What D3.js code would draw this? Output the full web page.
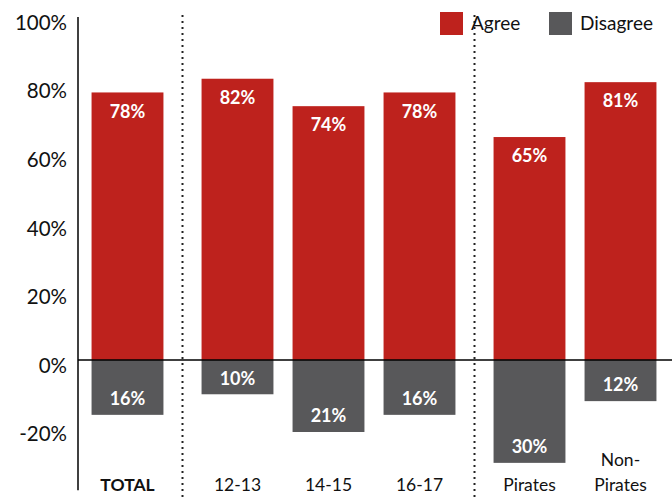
<!DOCTYPE html>
<html><head><meta charset="utf-8">
<script src="https://cdn.jsdelivr.net/npm/d3@7"></script>
<style>body{margin:0;background:#fff}</style>
</head><body>
<svg id="c" width="672" height="500"></svg>
<script>
const categories = ["TOTAL","12-13","14-15","16-17","Pirates","Non-Pirates"];
const groups = [0,1,1,1,2,2];
const agree = [78,82,74,78,65,81];
const disagree = [16,10,21,16,30,12];
const yTicks = [-20,0,20,40,60,80,100];
const series = ["Agree","Disagree"];
const colors = ["#BE221D","#58585A"];

const svg = d3.select("#c");
const font = "Lato, 'Open Sans', sans-serif";
const y = d3.scaleLinear().domain([-38,100]).range([490.3,17]);
const xb = d3.scaleBand().domain(categories).range([82,82+546]).paddingInner(0.21).paddingOuter(0.105);
const gap = 19;
const xPos = (c,i) => xb(c) + groups[i]*gap;

// axis
const yAxis = d3.axisLeft(y).tickValues(yTicks).tickSize(0).tickPadding(11).tickFormat(d=>d+"%");
const ag = svg.append("g").attr("transform","translate(78,0)").call(yAxis);
ag.select(".domain").remove();
ag.selectAll("text").attr("font-family",font).attr("font-size",20.5).attr("fill","#111").attr("dy","0.6em");
svg.append("line").attr("x1",78).attr("x2",78).attr("y1",y(100)).attr("y2",y(-38)).attr("stroke","#000").attr("stroke-width",1.5);

// bars
const bars = svg.append("g");
categories.forEach((c,i)=>{
  const x = xPos(c,i), w = xb.bandwidth();
  bars.append("rect").attr("x",x).attr("width",w).attr("y",y(agree[i])).attr("height",y(0)-y(agree[i])).attr("fill",colors[0]);
  bars.append("rect").attr("x",x).attr("width",w).attr("y",y(0)).attr("height",y(-disagree[i])-y(0)).attr("fill",colors[1]);
  bars.append("text").attr("x",x+w/2).attr("y",y(agree[i])+19).attr("dy","0.35em").attr("text-anchor","middle")
    .attr("font-family",font).attr("font-weight","bold").attr("font-size",18).attr("fill","#fff").text(agree[i]+"%");
  bars.append("text").attr("x",x+w/2).attr("y",y(-disagree[i])-16).attr("dy","0.35em").attr("text-anchor","middle")
    .attr("font-family",font).attr("font-weight","bold").attr("font-size",18).attr("fill","#fff").text(disagree[i]+"%");
  const parts = c==="Non-Pirates" ? ["Non-","Pirates"] : [c];
  parts.forEach((p,j)=>{
    svg.append("text").attr("x",x+w/2).attr("y",485-(parts.length-1-j)*25).attr("dy","0.35em").attr("text-anchor","middle")
      .attr("font-family",font).attr("font-size",17.5).attr("font-weight",c==="TOTAL"?"bold":"normal").attr("fill","#111").text(p);
  });
});

// zero line
svg.append("line").attr("x1",78).attr("x2",672).attr("y1",y(0)).attr("y2",y(0)).attr("stroke","#000").attr("stroke-width",1.5);

// dividers
[[0,1],[3,4]].forEach(([a,b])=>{
  const xm = (xPos(categories[a],a)+xb.bandwidth()+xPos(categories[b],b))/2;
  svg.append("line").attr("x1",xm).attr("x2",xm).attr("y1",15).attr("y2",500).attr("stroke","#222").attr("stroke-width",2).attr("stroke-dasharray","2,4");
});

// legend
const lx = [440,549];
series.forEach((s,i)=>{
  svg.append("rect").attr("x",lx[i]).attr("y",12).attr("width",23).attr("height",23).attr("fill",colors[i]);
  svg.append("text").attr("x",lx[i]+31).attr("y",23).attr("dy","0.35em").attr("font-family",font).attr("font-size",19).attr("fill","#111").text(s);
});
</script>
</body></html>
